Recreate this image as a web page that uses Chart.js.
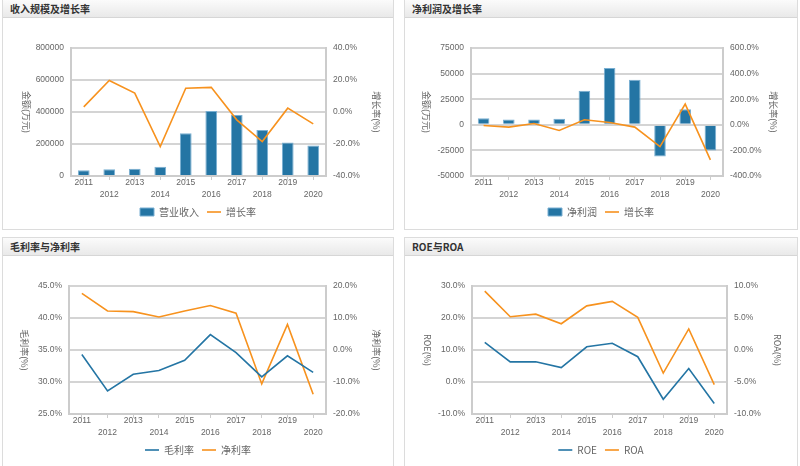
<!DOCTYPE html>
<html>
<head>
<meta charset="utf-8">
<script src="https://cdn.jsdelivr.net/npm/chart.js@4.4.0/dist/chart.umd.min.js"></script>
<style>
  body { margin:0; background:#fff; width:800px; height:466px; overflow:hidden; font-family:"Noto Sans CJK SC", sans-serif; }
  .panel { position:absolute; border:1px solid #dcdcdc; background:#fff; }
  .bar { height:17px; line-height:17px; background:linear-gradient(#fbfbfb,#e9e9e9); border-bottom:1px solid #d6d6d6; font-size:10px; font-weight:bold; color:#333; padding-left:7px; }
  canvas { display:block; }
</style>
</head>
<body>
<div class="panel" style="left:2px;top:-1px;width:390px;height:229px;"><div class="bar">收入规模及增长率</div><div style="position:relative;width:390px;height:211px"><canvas id="c1"></canvas></div></div>
<div class="panel" style="left:404px;top:-1px;width:392px;height:229px;"><div class="bar">净利润及增长率</div><div style="position:relative;width:392px;height:211px"><canvas id="c2"></canvas></div></div>
<div class="panel" style="left:2px;top:237px;width:390px;height:229px;"><div class="bar">毛利率与净利率</div><div style="position:relative;width:390px;height:211px"><canvas id="c3"></canvas></div></div>
<div class="panel" style="left:404px;top:237px;width:392px;height:229px;"><div class="bar">ROE与ROA</div><div style="position:relative;width:392px;height:211px"><canvas id="c4"></canvas></div></div>
<script>
var years = ['2011','2012','2013','2014','2015','2016','2017','2018','2019','2020'];
// 收入规模及增长率
var revenue = [35500, 42000, 46000, 58000, 267000, 407000, 382000, 288000, 209000, 190000];
var revenueGrowth = [3.2, 19.7, 11.8, -21.6, 14.9, 15.4, -4.9, -18.5, 2.4, -7.4];
// 净利润及增长率
var netProfit = [6500, 5200, 5200, 5900, 33300, 55500, 44000, -31000, 15300, -25100];
var profitGrowth = [-5, -18, 10, -44, 39, 18, -18, -170, 162, -274];
// 毛利率与净利率
var grossMargin = [34.3, 28.6, 31.2, 31.8, 33.4, 37.4, 34.6, 30.8, 34.1, 31.5];
var netMargin = [17.7, 12.2, 12.0, 10.3, 12.2, 13.9, 11.5, -10.6, 8.0, -13.8];
// ROE与ROA
var roe = [12.4, 6.3, 6.3, 4.5, 11.0, 12.1, 7.9, -5.4, 4.2, -6.7];
var roa = [9.2, 5.2, 5.6, 4.1, 6.9, 7.6, 5.1, -3.6, 3.3, -5.4];

var BLUE = '#2475a4', ORANGE = '#f7921e', GRAY = '#666';
var tickFont = {family:'"Liberation Sans", sans-serif', size:8.5, lineHeight:1.4};

// x labels staggered over two rows
var xLabels = years.map(function(y, i){ return i % 2 === 0 ? [y] : ['', y]; });

function pct(v) { return v.toFixed(1) + '%'; }

var axisTitles = {
  id: 'axisTitles',
  afterDraw: function(chart, args, opts) {
    var ctx = chart.ctx, a = chart.chartArea;
    var cy = (a.top + a.bottom) / 2;
    ctx.save();
    ctx.fillStyle = GRAY;
    ctx.font = '9px "Noto Sans CJK SC", sans-serif';
    ctx.textAlign = 'center';
    ctx.textBaseline = 'middle';
    [[opts.left, a.left - 45], [opts.right, a.right + 50]].forEach(function(t){
      ctx.save();
      ctx.translate(t[1], cy);
      ctx.rotate(Math.PI / 2);
      ctx.fillText(t[0], 0, 0);
      ctx.restore();
    });
    ctx.restore();
  }
};

function makeChart(id, datasets, y1, y2, titles, area) {
  new Chart(document.getElementById(id), {
    data: { labels: xLabels, datasets: datasets },
    plugins: [axisTitles],
    options: {
      responsive: true,
      maintainAspectRatio: false,
      animation: false,
      layout: { padding: { top: area.top, bottom: 2 } },
      plugins: {
        axisTitles: titles,
        tooltip: { enabled: false },
        legend: {
          position: 'bottom',
          labels: { usePointStyle: true, pointStyleWidth: 14, boxHeight: 8, color: GRAY, padding: 8,
                    sort: function(a, b){ return a.datasetIndex - b.datasetIndex; },
                    font: {family:'"Noto Sans CJK SC", sans-serif', size: 10} }
        }
      },
      scales: {
        x: {
          offset: true,
          grid: { display: true, drawOnChartArea: false, color: '#ccc', tickLength: 4, offset: false },
          border: { color: '#ccc', width: 2 },
          ticks: { color: GRAY, font: tickFont, maxRotation: 0, autoSkip: false, padding: -3 },
          afterFit: function(s){ s.height = area.xh; }
        },
        y: Object.assign({
          position: 'left',
          grid: { color: '#d4d4d4', lineWidth: 2, drawTicks: false },
          border: { color: '#ccc', width: 2 },
          afterFit: function(s){ s.width = area.left; }
        }, y1),
        y2: Object.assign({
          position: 'right',
          grid: { drawOnChartArea: false, drawTicks: false },
          border: { color: '#ccc', width: 2 },
          afterFit: function(s){ s.width = area.right; }
        }, y2)
      }
    }
  });
}

function ticks(step, fmt) {
  return { color: GRAY, font: tickFont, padding: 7, stepSize: step, callback: fmt };
}

var barStyle = { type: 'bar', backgroundColor: BLUE, borderColor: '#79afd2', borderWidth: 1,
                 barPercentage: 0.46, categoryPercentage: 1, pointStyle: 'rect', yAxisID: 'y', order: 2 };
var lineStyle = { type: 'line', borderWidth: 1.6, pointRadius: 0, pointStyle: 'line', tension: 0, fill: false };

makeChart('c1', [
  Object.assign({ label: '营业收入', data: revenue }, barStyle),
  Object.assign({ label: '增长率', data: revenueGrowth, borderColor: ORANGE, backgroundColor: ORANGE, yAxisID: 'y2', order: 1 }, lineStyle)
], { min: 0, max: 800000, ticks: ticks(200000, function(v){ return v; }) },
   { min: -40, max: 40, ticks: ticks(20, pct) },
   { left: '金额(万元)', right: '增长率(%)' },
   { top: 30, left: 68, right: 67, xh: 23 });

makeChart('c2', [
  Object.assign({ label: '净利润', data: netProfit }, barStyle),
  Object.assign({ label: '增长率', data: profitGrowth, borderColor: ORANGE, backgroundColor: ORANGE, yAxisID: 'y2', order: 1 }, lineStyle)
], { min: -50000, max: 75000, ticks: ticks(25000, function(v){ return v; }) },
   { min: -400, max: 600, ticks: ticks(200, pct) },
   { left: '金额(万元)', right: '增长率(%)' },
   { top: 30, left: 66, right: 74, xh: 23 });

makeChart('c3', [
  Object.assign({ label: '毛利率', data: grossMargin, borderColor: BLUE, backgroundColor: BLUE, yAxisID: 'y' }, lineStyle),
  Object.assign({ label: '净利率', data: netMargin, borderColor: ORANGE, backgroundColor: ORANGE, yAxisID: 'y2' }, lineStyle)
], { min: 25, max: 45, ticks: ticks(5, pct) },
   { min: -20, max: 20, ticks: ticks(10, pct) },
   { left: '毛利率(%)', right: '净利率(%)' },
   { top: 30, left: 66, right: 67, xh: 23 });

makeChart('c4', [
  Object.assign({ label: 'ROE', data: roe, borderColor: BLUE, backgroundColor: BLUE, yAxisID: 'y' }, lineStyle),
  Object.assign({ label: 'ROA', data: roa, borderColor: ORANGE, backgroundColor: ORANGE, yAxisID: 'y2' }, lineStyle)
], { min: -10, max: 30, ticks: ticks(10, pct) },
   { min: -10, max: 10, ticks: ticks(5, pct) },
   { left: 'ROE(%)', right: 'ROA(%)' },
   { top: 30, left: 67, right: 70, xh: 23 });
</script>
</body>
</html>
